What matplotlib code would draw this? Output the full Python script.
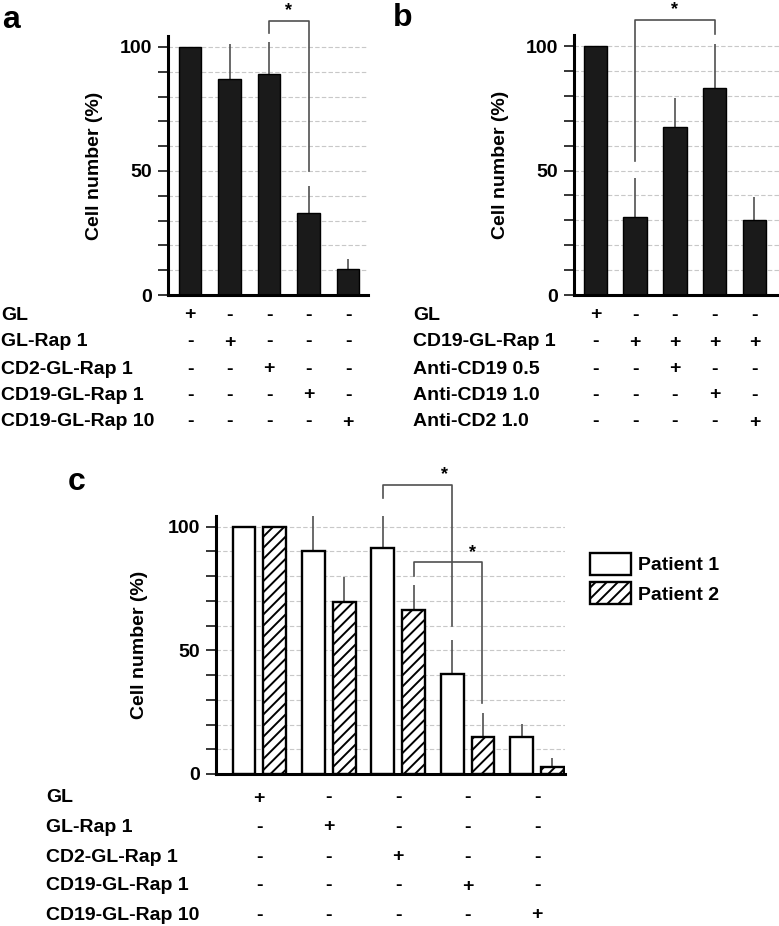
"""
Cell number (%) after GL / GL-Rap treatments - panels a, b, c
"""

import matplotlib
matplotlib.use("Agg")
import matplotlib.pyplot as plt
import matplotlib.transforms as mtransforms
from matplotlib.patches import Patch

plt.rcParams["font.family"] = ["Liberation Sans", "DejaVu Sans"]
plt.rcParams["hatch.linewidth"] = 1.4

W, H = 779, 926

# ---- data ----
# panel a
a_means = [100, 87, 89, 33, 10.5]
a_sd = [0, 14, 13, 11, 4]
a_rows = ["GL", "GL-Rap 1", "CD2-GL-Rap 1", "CD19-GL-Rap 1", "CD19-GL-Rap 10"]
a_signs = [
    ["+", "-", "-", "-", "-"],
    ["-", "+", "-", "-", "-"],
    ["-", "-", "+", "-", "-"],
    ["-", "-", "-", "+", "-"],
    ["-", "-", "-", "-", "+"],
]

# panel b
b_means = [100, 31.5, 67.5, 83, 30]
b_sd = [0, 15.5, 11.5, 18, 9.5]
b_rows = ["GL", "CD19-GL-Rap 1", "Anti-CD19 0.5", "Anti-CD19 1.0", "Anti-CD2 1.0"]
b_signs = [
    ["+", "-", "-", "-", "-"],
    ["-", "+", "+", "+", "+"],
    ["-", "-", "+", "-", "-"],
    ["-", "-", "-", "+", "-"],
    ["-", "-", "-", "-", "+"],
]

# panel c
c_p1_means = [100, 90, 91.5, 40.5, 14.8]
c_p1_sd = [0, 16.5, 15.5, 13.5, 5.5]
c_p2_means = [100, 69.5, 66.5, 14.8, 3]
c_p2_sd = [0, 10, 10, 9.7, 3.5]
c_rows = a_rows
c_signs = a_signs

# significance brackets: (x_left, y_left_end, x_right, y_right_end, y_top, star_x, star_y)
a_brackets = [(2, 105.5, 3, 50, 110.5, 2.5, 111.2)]
b_brackets = [(1, 54, 3, 105, 110.5, 2.0, 111.2)]
c_brackets = [
    (1.78, 111.5, 2.78, 60, 116.9, 2.67, 117.6),
    (2.22, 80, 3.21, 28.6, 85.6, 3.07, 86.2),
]

FS = 14
GRID_C = "#c8c8c8"
LINE_C = "#505050"


def px_axes(fig, left, right, y0, ytop):
    """Axes from pixel coordinates (y measured from top)."""
    return fig.add_axes([left / W, (H - y0) / H, (right - left) / W, (y0 - ytop) / H])


def style_axes(ax, xlim, labelpad):
    ax.set_xlim(*xlim)
    ax.set_ylim(0, 104.5)
    for s in ["top", "right"]:
        ax.spines[s].set_visible(False)
    ax.spines["left"].set_linewidth(2.2)
    ax.spines["bottom"].set_linewidth(2.2)
    ax.set_xticks([])
    ax.set_yticks([0, 50, 100])
    ax.set_yticks(range(10, 100, 10), minor=True)
    ax.tick_params(axis="y", which="both", direction="out", length=7.5, width=1.1,
                   pad=4, labelsize=FS)
    for lab in ax.get_yticklabels():
        lab.set_fontweight("bold")
    for y in range(10, 101, 10):
        ax.axhline(y, color=GRID_C, linestyle=(0, (4, 2)), linewidth=0.8, zorder=0)
    ax.set_ylabel("Cell number (%)", fontsize=FS, fontweight="bold",
                  labelpad=labelpad)


def draw_brackets(ax, brackets):
    for xl, yl, xr, yr, yt, sx, sy in brackets:
        ax.plot([xl, xl, xr, xr], [yl, yt, yt, yr], color=LINE_C, lw=1.2,
                clip_on=False, zorder=3)
        ax.text(sx, sy, "*", ha="center", va="bottom", fontsize=FS - 1,
                fontweight="bold", clip_on=False)


def draw_table(fig, ax, rows, signs, xpos, label_x, row_y):
    trans = mtransforms.blended_transform_factory(ax.transData, fig.transFigure)
    for i, name in enumerate(rows):
        yf = (H - row_y[i]) / H
        fig.text(label_x / W, yf, name, ha="left", va="center", fontsize=FS,
                 fontweight="bold")
        for j, s in enumerate(signs[i]):
            ax.text(xpos[j], yf, s, transform=trans, ha="center", va="center",
                    fontsize=FS, fontweight="bold", clip_on=False)


def main():
    fig = plt.figure(figsize=(W / 100, H / 100), dpi=100)

    x5 = list(range(5))

    # ---- panel a ----
    ax_a = px_axes(fig, 168, 368, 295, 35.8)
    style_axes(ax_a, (-0.557, 4.506), 12)
    ax_a.bar(x5, a_means, width=0.57, color="#1a1a1a", edgecolor="black", zorder=2)
    ax_a.vlines([x for x, s in zip(x5, a_sd) if s > 0],
                [m for m, s in zip(a_means, a_sd) if s > 0],
                [m + s for m, s in zip(a_means, a_sd) if s > 0],
                color=LINE_C, lw=1.2, zorder=1)
    draw_brackets(ax_a, a_brackets)
    draw_table(fig, ax_a, a_rows, a_signs, x5, 1, [315, 342, 369, 395, 422])
    fig.text(2 / W, (H - 28) / H, "a", fontsize=23, fontweight="bold")

    # ---- panel b ----
    ax_b = px_axes(fig, 574, 779, 295, 34.8)
    style_axes(ax_b, (-0.54, 4.62), 12)
    ax_b.bar(x5, b_means, width=0.59, color="#1a1a1a", edgecolor="black", zorder=2)
    ax_b.vlines([x for x, s in zip(x5, b_sd) if s > 0],
                [m for m, s in zip(b_means, b_sd) if s > 0],
                [m + s for m, s in zip(b_means, b_sd) if s > 0],
                color=LINE_C, lw=1.2, zorder=1)
    draw_brackets(ax_b, b_brackets)
    draw_table(fig, ax_b, b_rows, b_signs, x5, 413, [315, 342, 369, 395, 422])
    fig.text(393 / W, (H - 26) / H, "b", fontsize=23, fontweight="bold")

    # ---- panel c ----
    ax_c = px_axes(fig, 216, 565, 774, 515.6)
    style_axes(ax_c, (-0.623, 4.40), 14)
    off, bw = 0.22, 0.33
    x1 = [x - off for x in x5]
    x2 = [x + off for x in x5]
    ax_c.bar(x1, c_p1_means, width=bw, color="white", edgecolor="black", lw=1.7,
             zorder=2)
    ax_c.bar(x2, c_p2_means, width=bw, color="white", edgecolor="black", lw=1.7,
             hatch="///", zorder=2)
    for xs, means, sds in [(x1, c_p1_means, c_p1_sd), (x2, c_p2_means, c_p2_sd)]:
        ax_c.vlines([x for x, s in zip(xs, sds) if s > 0],
                    [m for m, s in zip(means, sds) if s > 0],
                    [m + s for m, s in zip(means, sds) if s > 0],
                    color=LINE_C, lw=1.2, zorder=1)
    draw_brackets(ax_c, c_brackets)
    draw_table(fig, ax_c, c_rows, c_signs, x5, 46, [798, 827, 857, 886, 915])
    fig.text(68 / W, (H - 490) / H, "c", fontsize=23, fontweight="bold")

    handles = [
        Patch(facecolor="white", edgecolor="black", lw=1.7, label="Patient 1"),
        Patch(facecolor="white", edgecolor="black", lw=1.7, hatch="///",
              label="Patient 2"),
    ]
    fig.legend(handles=handles, loc="upper left",
               bbox_to_anchor=(586 / W, (H - 549) / H), frameon=False,
               prop={"size": FS, "weight": "bold"}, handlelength=2.1,
               handleheight=1.35, handletextpad=0.4, labelspacing=0.4,
               borderpad=0.2, borderaxespad=0)

    fig.savefig("out.png", dpi=100)


if __name__ == "__main__":
    main()
